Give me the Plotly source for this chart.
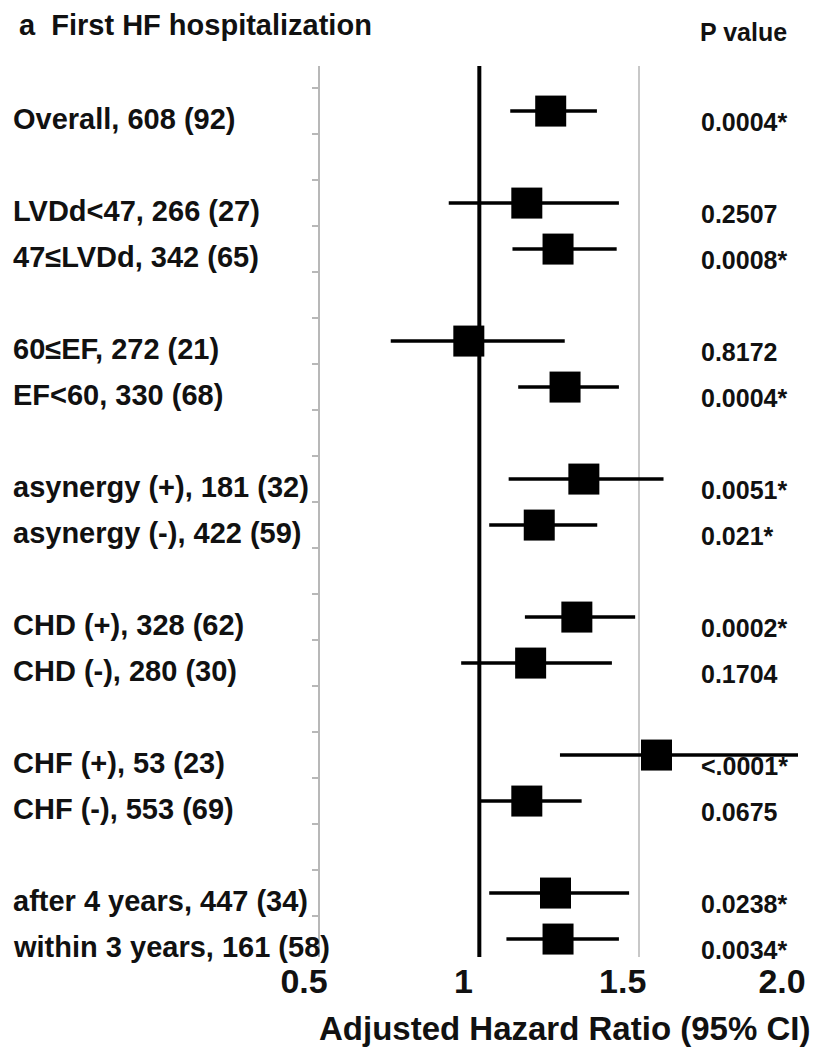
import numpy as np
import plotly.graph_objects as go

# ---- data ----
subgroups = ["Overall, 608 (92)",
             "LVDd<47, 266 (27)", "47≤LVDd, 342 (65)",
             "60≤EF, 272 (21)", "EF<60, 330 (68)",
             "asynergy (+), 181 (32)", "asynergy (-), 422 (59)",
             "CHD (+), 328 (62)", "CHD (-), 280 (30)",
             "CHF (+), 53 (23)", "CHF (-), 553 (69)",
             "after 4 years, 447 (34)", "within 3 years, 161 (58)"]
group_sizes = [1, 2, 2, 2, 2, 2, 2]
hr = [1.224, 1.149, 1.247, 0.967, 1.269, 1.328, 1.188, 1.306, 1.161, 1.556, 1.149, 1.239, 1.247]
ci_lower = [1.097, 0.904, 1.104, 0.722, 1.122, 1.092, 1.031, 1.143, 0.943, 1.253, 0.997, 1.031, 1.085]
ci_upper = [1.369, 1.438, 1.431, 1.268, 1.438, 1.578, 1.370, 1.489, 1.416, 2.03, 1.321, 1.470, 1.438]
p_values = ["0.0004*", "0.2507", "0.0008*", "0.8172", "0.0004*", "0.0051*", "0.021*",
            "0.0002*", "0.1704", "<.0001*", "0.0675", "0.0238*", "0.0034*"]
x_tickvals = [0.5, 1, 1.5, 2.0]
x_ticktext = ["0.5", "1", "1.5", "2.0"]
title_text = "a\u00a0 First HF hospitalization"
p_header = "P value"
x_title = "Adjusted Hazard Ratio (95% CI)"

# row index of each subgroup: one blank row between groups
rows = []
r = 0
for gsize in group_sizes:
    for _ in range(gsize):
        rows.append(r)
        r += 1
    r += 1
last_row = rows[-1]

FONT = "Liberation Sans"
INK = "#111111"

fig = go.Figure()
fig.add_trace(go.Scatter(
    x=hr, y=rows, mode="markers",
    marker=dict(symbol="square", size=31, color="black"),
    error_x=dict(type="data", symmetric=False,
                 array=[u - h for u, h in zip(ci_upper, hr)],
                 arrayminus=[h - l for h, l in zip(hr, ci_lower)],
                 width=0, thickness=3.5, color="black"),
    showlegend=False, hoverinfo="skip"))

# reference line at HR = 1
fig.add_shape(type="line", xref="x", yref="paper", x0=1, x1=1, y0=0, y1=1,
              line=dict(color="black", width=4))

L, R, T, B = 320, 13, 66, 92
W, H = 818, 1049
pw = W - L - R
ph = H - T - B

def px_x(px):
    return (px - L) / pw

def px_y(py):
    return 1 - (py - T) / ph

for lab, row, p in zip(subgroups, rows, p_values):
    fig.add_annotation(text="<b>" + lab + "</b>", xref="paper", yref="y",
                       x=px_x(6), y=row, xanchor="left", yanchor="middle",
                       yshift=-8, showarrow=False,
                       font=dict(family=FONT, size=29, color=INK))
    fig.add_annotation(text="<b>" + p + "</b>", xref="paper", yref="y",
                       x=px_x(705), y=row, xanchor="left", yanchor="middle",
                       yshift=-11, showarrow=False,
                       font=dict(family=FONT, size=25, color=INK))

fig.add_annotation(text="<b>" + title_text + "</b>", xref="paper", yref="paper",
                   x=px_x(13), y=px_y(25), xanchor="left", yanchor="middle",
                   showarrow=False, font=dict(family=FONT, size=29, color=INK))
fig.add_annotation(text="<b>" + p_header + "</b>", xref="paper", yref="paper",
                   x=px_x(704), y=px_y(32), xanchor="left", yanchor="middle",
                   showarrow=False, font=dict(family=FONT, size=25, color=INK))
fig.add_annotation(text="<b>" + x_title + "</b>", xref="paper", yref="paper",
                   x=px_x(568), y=px_y(1028), xanchor="center", yanchor="middle",
                   showarrow=False, font=dict(family=FONT, size=33, color=INK))

fig.update_layout(
    width=W, height=H,
    margin=dict(l=L, r=R, t=T, b=B, pad=0),
    paper_bgcolor="white", plot_bgcolor="white",
    font=dict(family=FONT, color=INK),
    xaxis=dict(range=[0.5, 2.0], tickvals=x_tickvals,
               ticktext=["<b>" + t + "</b>" for t in x_ticktext],
               tickfont=dict(family=FONT, size=34, color=INK),
               showgrid=True, gridcolor="#c8c8c8", gridwidth=1.5,
               zeroline=False, showline=False, ticks="",
               ticklabelshift=-16, ticklabelstandoff=1),
    yaxis=dict(range=[last_row + 0.39, -0.98],
               tickvals=list(np.arange(-0.5, last_row, 1.0)),
               showticklabels=False, ticks="outside", ticklen=6,
               tickcolor="#b8b8b8", tickwidth=1.5,
               showline=True, linecolor="#b8b8b8", linewidth=1.5,
               showgrid=False, zeroline=False),
)

fig.write_html("out.html")
